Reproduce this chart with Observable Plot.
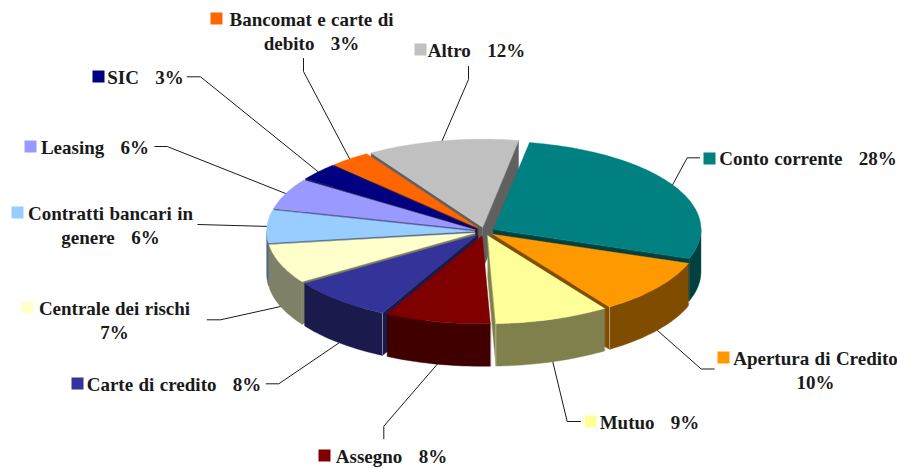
<!DOCTYPE html>
<html>
<head>
<meta charset="utf-8">
<style>html,body{margin:0;padding:0;background:#fff}svg{display:block}svg text{word-spacing:.7px}</style>
<script src="https://cdn.jsdelivr.net/npm/d3@7"></script>
<script src="https://cdn.jsdelivr.net/npm/@observablehq/plot@0.6"></script>
</head>
<body>
<div id="chart"></div>
<script>
// Data, clockwise from the first slice (shares; labels show them rounded)
const categories = ["Conto corrente","Apertura di Credito","Mutuo","Assegno","Carte di credito","Centrale dei rischi","Contratti bancari in genere","Leasing","SIC","Bancomat e carte di debito","Altro"];
const values = [27.6,10.1,8.9,8.2,8.1,7.2,6.0,5.7,3.2,3.2,11.8];
const colors = ["#008080","#FF9900","#FFFF99","#800000","#333399","#FFFFCC","#99CCFF","#9999FF","#000080","#FF6600","#C0C0C0"];
const wallColors = ["#004040","#804D00","#80804D","#400000","#1A1A4D","#808066","#4D6680","#4D4D80","#000040","#803300","#606060"];
const labelLines = ["Conto corrente\u00a0\u00a0\u00a028%","Apertura di Credito\n10%","Mutuo\u00a0\u00a0\u00a09%","Assegno\u00a0\u00a0\u00a08%","Carte di credito\u00a0\u00a0\u00a08%","Centrale dei rischi\n7%","Contratti bancari in\ngenere\u00a0\u00a0\u00a06%","Leasing\u00a0\u00a0\u00a06%","SIC\u00a0\u00a0\u00a03%","Bancomat e carte di\ndebito\u00a0\u00a0\u00a03%","Altro\u00a0\u00a0\u00a012%"];

// Pie geometry (layout)
const W = 897, H = 468;
const cx = 484, cy = 231, rx = 207.5, ry = 88, depth = 42.5, explode = 0.05, startAngle = 10;
const rad = d => d * Math.PI / 180;
const total = d3.sum(values);

// Label layout (annotation placement)
const labelX = [807.5,815,649,391,173.5,114,110,94.5,145,311,476];
const labelY = [156.5,368.5,420.5,454.5,382.5,318.5,223.5,145.5,75.5,29.5,48.5];
const keyX = [709,723,590,324,77,27,17,30,98,216,420];
const keyY = [158,357,421,455,383,307,212,146,76,18,49];
const elbowX = [686.7,700.7,566.7,383.3,278.3,220,197.3,166.7,200,303,468];
const elbowY = [157.3,368.5,421,425.7,383.3,319.3,224,146,76.3,71,79];
const tailX = [699,713.7,580,383.3,265.7,206.7,197.3,154.3,186.7,303,468];
const tailY = [157.3,368.5,421,438.3,383.3,319.3,224,146,76.3,58,66];

let acc = startAngle;
const slices = values.map((v, i) => {
  const a0 = acc, a1 = acc + v / total * 360; acc = a1;
  const mid = (a0 + a1) / 2;
  const ax = cx + explode * rx * Math.sin(rad(mid));
  const ay = cy - explode * ry * Math.cos(rad(mid));
  return {i, a0, a1, mid, ax, ay};
});
const rimPoint = (s, t, dz = 0) => [s.ax + rx * Math.sin(rad(t)), s.ay - ry * Math.cos(rad(t)) + dz];
const arc = (s, from, to, dz = 0) => {
  const n = Math.max(2, Math.ceil(Math.abs(to - from) / 1.5));
  return d3.range(n + 1).map(k => rimPoint(s, from + (to - from) * k / n, dz));
};

const polys = [];
let pid = 0;
const addPoly = (pts, fill) => { const id = pid++; pts.forEach(([x, y]) => polys.push({id, x, y, fill})); };
const highlights = [];

// Paint slices from back to front
[...slices].sort((p, q) => -Math.cos(rad(p.mid)) + Math.cos(rad(q.mid))).forEach(s => {
  const wall = wallColors[s.i];
  const face = t => {
    const e = rimPoint(s, t), f = rimPoint(s, t, depth);
    addPoly([[s.ax, s.ay], e, f, [s.ax, s.ay + depth]], wall);
  };
  if (Math.sin(rad(s.a0)) < 0) face(s.a0);
  if (Math.sin(rad(s.a1)) > 0) face(s.a1);
  // outer wall: only the part of the rim facing the viewer
  const f0 = Math.max(s.a0, 90), f1 = Math.min(s.a1, 270);
  if (f1 > f0) addPoly([...arc(s, f0, f1), ...arc(s, f1, f0, depth)], wall);
  addPoly([[s.ax, s.ay], ...arc(s, s.a0, s.a1)], colors[s.i]);
  // lighter vertical edge on the corners turned toward the viewer
  const corner = (s.a1 > 120 && s.a1 < 180) ? s.a1 : (s.a0 > 180 && s.a0 < 225) ? s.a0 : null;
  if (corner !== null) {
    const [x0, y0] = rimPoint(s, corner), [x1, y1] = rimPoint(s, corner, depth);
    highlights.push({id: s.i, x: x0, y: y0}, {id: s.i, x: x1, y: y1});
  }
});

// Leader lines: from the slice rim (mid angle) through the elbow to the label
const leaders = slices.flatMap(s => {
  const front = Math.cos(rad(s.mid)) < 0;
  const [x, y] = rimPoint(s, s.mid, front ? depth : 0);
  return [
    {id: s.i, x, y},
    {id: s.i, x: elbowX[s.i], y: elbowY[s.i]},
    {id: s.i, x: tailX[s.i], y: tailY[s.i]}
  ];
});

const idx = d3.range(values.length);
const chart = Plot.plot({
  width: W, height: H, margin: 0,
  x: {domain: [0, W], range: [0, W], axis: null},
  y: {domain: [0, H], range: [0, H], axis: null},
  style: {background: "#fff"},
  marks: [
    Plot.line(leaders, {x: "x", y: "y", z: "id", stroke: "#1a1a1a", strokeWidth: 1, curve: "linear"}),
    Plot.line(polys, {x: "x", y: "y", z: "id", fill: "fill", stroke: "fill", strokeWidth: 0.4, curve: "linear-closed"}),
    Plot.line(highlights, {x: "x", y: "y", z: "id", stroke: "#ffffff", strokeOpacity: 0.4, strokeWidth: 1}),
    Plot.dot(idx, {x: i => keyX[i], y: i => keyY[i], symbol: "square", r: 6.77, fill: i => colors[i], stroke: "none"}),
    Plot.text(idx, {
      x: i => labelX[i], y: i => labelY[i], text: i => labelLines[i],
      fontFamily: "'Liberation Serif', serif", fontWeight: "bold", fontSize: 19,
      lineHeight: 1.263, lineAnchor: "middle", textAnchor: "middle", fill: "#1a1a1a"
    })
  ]
});
document.getElementById("chart").appendChild(chart);
</script>
</body>
</html>
